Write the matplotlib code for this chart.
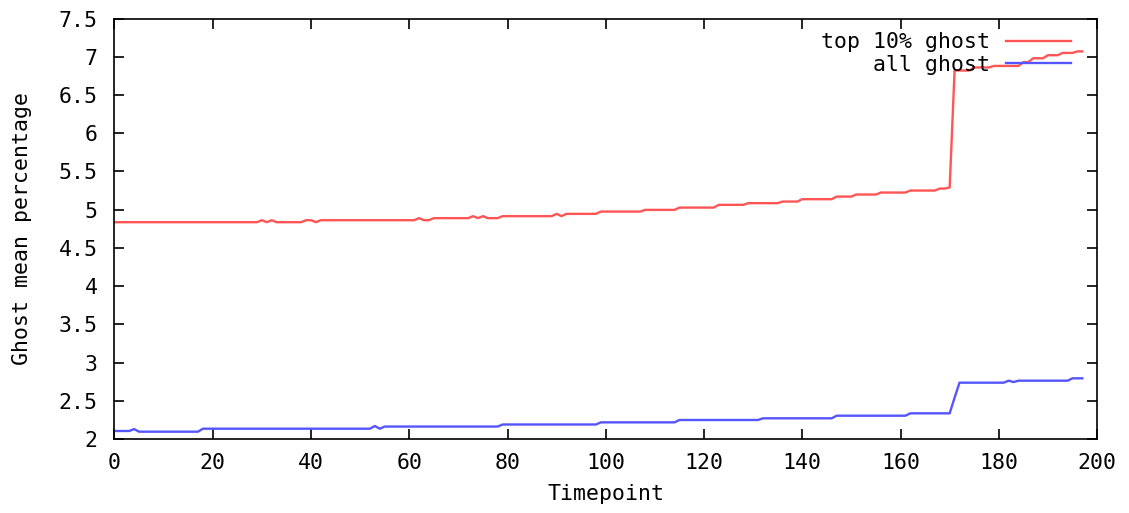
import numpy as np
import matplotlib
matplotlib.use('Agg')
import matplotlib.pyplot as plt

# Datos (timepoint, valor)
top_t = [0, 29, 30, 31, 32, 33, 38, 39, 40, 41, 42, 61, 62, 63, 64, 65,
         72, 73, 74, 75, 76, 78, 79, 89, 90, 91, 92, 98, 99, 107, 108,
         114, 115, 122, 123, 128, 129, 135, 136, 139, 140, 146, 147,
         150, 151, 155, 156, 161, 162, 167, 168, 169, 170, 171, 174, 175,
         178, 179, 184, 185, 186, 187, 189, 190, 192, 193, 195, 196, 197]
top_v = [4.836, 4.836, 4.862, 4.836, 4.862, 4.836, 4.836, 4.862, 4.862, 4.836, 4.862,
         4.862, 4.889, 4.862, 4.862, 4.889,
         4.889, 4.915, 4.889, 4.915, 4.889, 4.889, 4.915, 4.915, 4.945, 4.915, 4.945,
         4.945, 4.975, 4.975, 4.997,
         4.997, 5.027, 5.027, 5.063, 5.063, 5.085, 5.085, 5.106, 5.106, 5.137,
         5.137, 5.171, 5.171, 5.198, 5.198, 5.224, 5.224, 5.25, 5.25, 5.276,
         5.276, 5.29, 6.82, 6.82, 6.86,
         6.86, 6.88, 6.88, 6.93, 6.93, 6.98, 6.98, 7.02, 7.02, 7.05, 7.05, 7.07, 7.07]

all_t = [0, 3, 4, 5, 17, 18, 52, 53, 54, 55, 78, 79, 98, 99, 114, 115,
         131, 132, 146, 147, 161, 162, 170, 171, 172, 181, 182, 183, 184,
         194, 195, 197]
all_v = [2.105, 2.105, 2.13, 2.096, 2.096, 2.135, 2.135, 2.17, 2.135, 2.163,
         2.163, 2.19, 2.19, 2.218, 2.218, 2.249,
         2.249, 2.271, 2.271, 2.305, 2.305, 2.336, 2.336, 2.54, 2.737,
         2.737, 2.763, 2.745, 2.763,
         2.763, 2.794, 2.794]

x_ticks = np.arange(0, 201, 20)
y_ticks = [2, 2.5, 3, 3.5, 4, 4.5, 5, 5.5, 6, 6.5, 7, 7.5]
y_labels = ['2', '2.5', '3', '3.5', '4', '4.5', '5', '5.5', '6', '6.5', '7', '7.5']

plt.rcParams['font.family'] = ['DejaVu Sans Mono']
fs = 15.5

fig = plt.figure(figsize=(11.29, 5.13), dpi=100)
ax = fig.add_axes([0.1014, 0.1442, 0.8703, 0.8197])

ax.plot(top_t, top_v, color='#ff5555', lw=1.7, label='top 10% ghost')
ax.plot(all_t, all_v, color='#5555ff', lw=1.7, label='all ghost')

ax.set_xlim(0, 200)
ax.set_ylim(2, 7.5)
ax.set_xticks(x_ticks)
ax.set_yticks(y_ticks)
ax.set_yticklabels(y_labels)
ax.tick_params(direction='in', length=7, width=1.2, top=True, right=True,
               labelsize=fs, colors='black')
ax.tick_params(axis='x', pad=10)
ax.tick_params(axis='y', pad=12)
for s in ax.spines.values():
    s.set_linewidth(1.2)

ax.set_xlabel('Timepoint', fontsize=fs, labelpad=8)
ax.set_ylabel('Ghost mean percentage', fontsize=fs, labelpad=19)

ax.legend(loc='upper right', bbox_to_anchor=(0.973, 0.967), frameon=False,
          markerfirst=False, fontsize=fs, handlelength=3.0, handletextpad=0.75,
          labelspacing=0.12, borderaxespad=0, borderpad=0)

plt.savefig('out.png', dpi=100)
